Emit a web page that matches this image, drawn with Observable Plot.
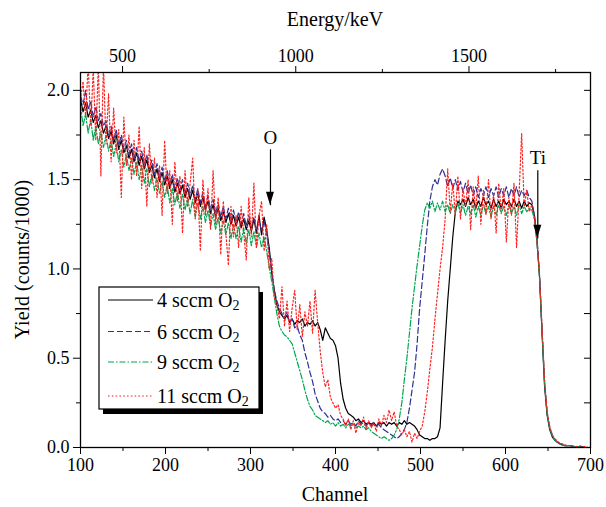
<!DOCTYPE html>
<html>
<head>
<meta charset="utf-8">
<script src="https://cdn.jsdelivr.net/npm/d3@7"></script>
<script src="https://cdn.jsdelivr.net/npm/@observablehq/plot@0.6"></script>
<style>
  html, body { margin: 0; padding: 0; background: #fff; }
  #chart { width: 606px; height: 507px; }
</style>
</head>
<body>
<div id="chart"></div>
<script>
// Channel grid (every 3rd channel, 100..700)
const channels = d3.range(100, 701, 3);

// Yield (counts/1000)
const sccm4 = [
1.95,1.88,1.93,1.85,1.89,1.82,1.86,1.79,1.83,1.76,
1.80,1.73,1.77,1.70,1.75,1.67,1.72,1.65,1.69,1.62,
1.67,1.60,1.65,1.58,1.63,1.56,1.61,1.54,1.58,1.51,
1.56,1.49,1.54,1.47,1.52,1.45,1.50,1.43,1.48,1.42,
1.47,1.40,1.45,1.39,1.44,1.37,1.42,1.35,1.40,1.33,
1.38,1.31,1.36,1.29,1.34,1.27,1.32,1.26,1.31,1.25,
1.30,1.24,1.29,1.23,1.28,1.22,1.27,1.21,1.28,1.20,
1.30,1.19,1.29,1.22,1.12,0.98,0.88,0.80,0.76,0.74,
0.72,0.74,0.70,0.72,0.69,0.71,0.70,0.72,0.68,0.70,
0.69,0.71,0.68,0.70,0.66,0.60,0.67,0.64,0.61,0.60,
0.57,0.50,0.36,0.27,0.22,0.19,0.18,0.17,0.15,0.16,
0.14,0.15,0.13,0.14,0.13,0.14,0.12,0.14,0.13,0.14,
0.12,0.14,0.13,0.14,0.12,0.14,0.13,0.15,0.13,0.14,
0.13,0.12,0.10,0.07,0.06,0.05,0.05,0.04,0.05,0.05,
0.06,0.11,0.36,0.60,0.82,1.00,1.18,1.32,1.38,1.36,
1.39,1.35,1.40,1.36,1.39,1.34,1.38,1.35,1.40,1.36,
1.38,1.34,1.39,1.35,1.38,1.34,1.39,1.36,1.38,1.35,
1.39,1.35,1.38,1.34,1.38,1.35,1.37,1.36,1.30,1.16,
0.96,0.64,0.34,0.18,0.10,0.06,0.04,0.03,0.02,0.015,
0.01,0.01,0.01,0.005,0.005,0.005,0.005,0.005,0,0,
0
];
const sccm6 = [
1.97,1.92,2.00,1.89,1.94,1.85,1.91,1.83,1.87,1.80,
1.83,1.75,1.80,1.72,1.78,1.69,1.75,1.67,1.72,1.64,
1.70,1.62,1.68,1.60,1.66,1.58,1.64,1.56,1.61,1.53,
1.59,1.51,1.57,1.49,1.55,1.47,1.53,1.45,1.51,1.44,
1.50,1.42,1.48,1.41,1.47,1.39,1.45,1.37,1.43,1.35,
1.41,1.33,1.39,1.31,1.37,1.29,1.35,1.28,1.34,1.27,
1.33,1.26,1.32,1.25,1.31,1.24,1.30,1.23,1.29,1.22,
1.28,1.21,1.27,1.19,1.10,0.98,0.88,0.82,0.78,0.75,
0.73,0.76,0.70,0.72,0.67,0.68,0.63,0.60,0.53,0.48,
0.42,0.37,0.30,0.26,0.22,0.20,0.19,0.17,0.18,0.16,
0.15,0.16,0.14,0.15,0.13,0.15,0.13,0.14,0.12,0.15,
0.13,0.14,0.12,0.14,0.12,0.13,0.12,0.13,0.11,0.10,
0.09,0.08,0.07,0.06,0.05,0.06,0.08,0.10,0.14,0.22,
0.32,0.42,0.58,0.78,0.93,1.08,1.24,1.38,1.46,1.50,
1.47,1.53,1.56,1.52,1.46,1.51,1.45,1.50,1.44,1.49,
1.43,1.48,1.42,1.47,1.41,1.46,1.40,1.45,1.41,1.46,
1.40,1.45,1.41,1.46,1.40,1.45,1.41,1.46,1.40,1.45,
1.41,1.46,1.40,1.44,1.41,1.44,1.40,1.38,1.30,1.18,
0.97,0.66,0.36,0.19,0.11,0.07,0.045,0.03,0.02,0.015,
0.01,0.01,0.01,0.005,0.005,0.005,0.005,0.005,0,0,
0
];
const sccm9 = [
1.92,1.80,1.87,1.76,1.84,1.72,1.80,1.70,1.77,1.68,
1.75,1.66,1.72,1.63,1.70,1.60,1.67,1.57,1.64,1.55,
1.62,1.53,1.60,1.50,1.58,1.48,1.56,1.46,1.53,1.44,
1.51,1.42,1.49,1.40,1.47,1.37,1.45,1.36,1.43,1.34,
1.42,1.33,1.40,1.31,1.39,1.29,1.37,1.28,1.35,1.26,
1.33,1.24,1.31,1.22,1.29,1.20,1.27,1.19,1.26,1.17,
1.25,1.17,1.24,1.15,1.23,1.14,1.22,1.13,1.21,1.12,
1.20,1.12,1.18,1.10,1.01,0.93,0.84,0.75,0.68,0.65,
0.63,0.62,0.60,0.58,0.53,0.48,0.43,0.38,0.32,0.27,
0.23,0.21,0.18,0.17,0.16,0.15,0.14,0.15,0.13,0.14,
0.12,0.14,0.12,0.13,0.11,0.13,0.12,0.13,0.11,0.12,
0.11,0.12,0.10,0.11,0.09,0.08,0.07,0.06,0.05,0.06,
0.05,0.04,0.05,0.07,0.10,0.16,0.25,0.38,0.50,0.64,
0.78,0.90,1.02,1.13,1.24,1.33,1.37,1.34,1.38,1.32,
1.37,1.33,1.38,1.32,1.36,1.31,1.36,1.32,1.37,1.31,
1.36,1.30,1.35,1.31,1.36,1.29,1.35,1.30,1.36,1.31,
1.35,1.29,1.35,1.30,1.36,1.31,1.35,1.30,1.36,1.31,
1.35,1.30,1.36,1.31,1.35,1.32,1.34,1.33,1.28,1.15,
0.95,0.65,0.36,0.19,0.11,0.065,0.04,0.03,0.02,0.015,
0.01,0.01,0.01,0.005,0.005,0.005,0.005,0,0,0,
0
];
const sccm11 = [
1.95,2.05,1.85,2.15,1.80,2.12,1.72,2.15,1.52,2.15,
1.70,1.98,1.60,1.90,1.65,1.78,1.40,1.85,1.58,1.75,
1.50,1.72,1.52,1.80,1.45,1.68,1.35,1.70,1.48,1.62,
1.40,1.58,1.30,1.72,1.42,1.55,1.25,1.60,1.38,1.52,
1.20,1.55,1.35,1.48,1.62,1.28,1.45,1.10,1.50,1.30,
1.45,1.22,1.55,1.25,1.40,1.08,1.38,1.20,1.02,1.35,
1.18,1.30,1.12,1.35,1.20,1.05,1.40,1.18,1.48,1.12,
1.30,1.38,1.10,1.25,1.00,1.06,0.84,0.80,0.72,0.90,
0.68,0.82,0.65,0.78,0.88,0.66,0.80,0.62,0.76,0.68,
0.82,0.64,0.88,0.70,0.54,0.42,0.34,0.38,0.28,0.25,
0.22,0.24,0.18,0.16,0.12,0.16,0.10,0.15,0.08,0.14,
0.12,0.17,0.10,0.15,0.11,0.14,0.09,0.16,0.12,0.18,
0.14,0.21,0.15,0.20,0.12,0.10,0.07,0.10,0.06,0.09,
0.03,0.08,0.05,0.09,0.12,0.20,0.31,0.44,0.56,0.72,
0.86,1.00,1.12,1.28,1.56,1.32,1.48,1.30,1.52,1.28,
1.45,1.35,1.50,1.22,1.46,1.33,1.52,1.25,1.44,1.30,
1.50,1.28,1.42,1.20,1.48,1.32,1.45,1.15,1.40,1.30,
1.48,1.12,1.42,1.76,1.35,1.44,1.32,1.36,1.28,1.16,
0.96,0.67,0.37,0.20,0.12,0.07,0.05,0.035,0.025,0.02,
0.015,0.01,0.01,0.01,0.005,0.005,0.01,0.005,0.005,0,
0
];

const seriesNames = ["4 sccm O", "6 sccm O", "9 sccm O", "11 sccm O"];
const seriesValues = [sccm4, sccm6, sccm9, sccm11];
const seriesColors = ["#000000", "#2e3192", "#00a651", "#ff2020"];
const seriesDash = [null, "6,3", "6,2,1.5,2", "1.6,2.2"];

const xMajor = [100, 200, 300, 400, 500, 600, 700];
const xMinor = [150, 250, 350, 450, 550, 650];
const yMajor = [0, 0.5, 1.0, 1.5, 2.0];
const yMinor = [0.25, 0.75, 1.25, 1.75];
const yRight = [0.25, 0.5, 0.75, 1.0, 1.25, 1.5, 1.75, 2.0];
const energyMajor = [500, 1000, 1500];
const energyMinor = [750, 1250, 1750];
const energyAtEnds = [378.6, 1850.8]; // keV at channel 100 and 700

const annotations = [
  {label: "O", channel: 323.5, labelY: 1.735, top: 1.67, tip: 1.357},
  {label: "Ti", channel: 638, labelY: 1.62, top: 1.553, tip: 1.172}
];

const chOfE = e => 100 + (e - energyAtEnds[0]) / (energyAtEnds[1] - energyAtEnds[0]) * 600;
const eLabel = new Map(energyMajor.map(e => [chOfE(e), String(e)]));

const rows = [];
seriesValues.forEach((vals, s) => {
  vals.forEach((v, i) => rows.push({series: s, channel: channels[i], value: v}));
});

const FONT = "Liberation Serif, Times New Roman, serif";

const lineMarks = seriesValues.map((vals, s) =>
  Plot.line(rows.filter(r => r.series === s), {
    x: "channel", y: "value",
    stroke: seriesColors[s], strokeWidth: 1.2,
    strokeDasharray: seriesDash[s] || undefined,
    clip: true
  })
);

const plot = Plot.plot({
  width: 606, height: 507,
  marginLeft: 80, marginRight: 16, marginTop: 72, marginBottom: 60,
  style: {fontFamily: FONT, background: "#fff", color: "#000"},
  x: {domain: [100, 700], axis: null},
  y: {domain: [0, 2.1], axis: null},
  marks: [
    ...lineMarks,
    Plot.frame({stroke: "#000", strokeWidth: 1.3}),
    Plot.axisX(xMajor, {anchor: "bottom", tickSize: 7, tickPadding: 4, fontSize: 18, label: null, tickFormat: d => String(d)}),
    Plot.axisX(xMinor, {anchor: "bottom", tickSize: 4, label: null, tickFormat: () => ""}),
    Plot.axisX(energyMajor.map(chOfE), {anchor: "top", tickSize: 7, tickPadding: 4, fontSize: 18, label: null, tickFormat: d => eLabel.get(d)}),
    Plot.axisX(energyMinor.map(chOfE), {anchor: "top", tickSize: 4, label: null, tickFormat: () => ""}),
    Plot.axisY(yMajor, {anchor: "left", tickSize: 7, tickPadding: 4, fontSize: 18, label: null, tickFormat: d => d.toFixed(1)}),
    Plot.axisY(yMinor, {anchor: "left", tickSize: 4, label: null, tickFormat: () => ""}),
    Plot.axisY(yRight, {anchor: "right", tickSize: 7, dx: -7, label: null, tickFormat: () => ""}),
    Plot.text(annotations, {x: "channel", y: "labelY", text: "label", fontSize: 19, fill: "#000"}),
    Plot.link(annotations, {x1: "channel", x2: "channel", y1: "top", y2: "tip", stroke: "#000", strokeWidth: 1.2})
  ]
});

document.getElementById("chart").appendChild(plot);

// Decorations: arrow heads, titles, legend
const svg = d3.select(plot);
const sx = plot.scale("x"), sy = plot.scale("y");
annotations.forEach(a => {
  const x = sx.apply(a.channel), y = sy.apply(a.tip);
  svg.append("path")
    .attr("d", `M${x},${y}L${x - 4},${y - 13}L${x + 4},${y - 13}Z`)
    .attr("fill", "#000");
});

const titleG = svg.append("g").attr("font-family", FONT).attr("fill", "#000").attr("font-size", 20);
titleG.append("text").attr("x", 335).attr("y", 494).attr("text-anchor", "middle").attr("dominant-baseline", "central").text("Channel");
titleG.append("text").attr("x", 335).attr("y", 19).attr("text-anchor", "middle").attr("dominant-baseline", "central").text("Energy/keV");
titleG.append("text").attr("transform", "translate(22,259.5) rotate(-90)").attr("text-anchor", "middle").attr("dominant-baseline", "central").text("Yield (counts/1000)");

const lg = svg.append("g").attr("font-family", FONT).attr("font-size", 20).attr("text-anchor", "start");
lg.append("rect").attr("x", 103).attr("y", 292).attr("width", 160).attr("height", 122).attr("fill", "#000");
lg.append("rect").attr("x", 99).attr("y", 287).attr("width", 160).attr("height", 122).attr("fill", "#fff").attr("stroke", "#000").attr("stroke-width", 1.2);
const legendY = [300, 331.5, 362, 396];
seriesNames.forEach((name, s) => {
  const y = legendY[s];
  lg.append("line").attr("x1", 108).attr("x2", 153).attr("y1", y).attr("y2", y)
    .attr("stroke", seriesColors[s]).attr("stroke-width", 1.2)
    .attr("stroke-dasharray", seriesDash[s]);
  const t = lg.append("text").attr("x", 157).attr("y", y).attr("text-anchor", "start").attr("dominant-baseline", "central").attr("fill", "#000");
  t.append("tspan").text(name);
  t.append("tspan").attr("font-size", 14).attr("dy", 5).text("2");
});
</script>
</body>
</html>
